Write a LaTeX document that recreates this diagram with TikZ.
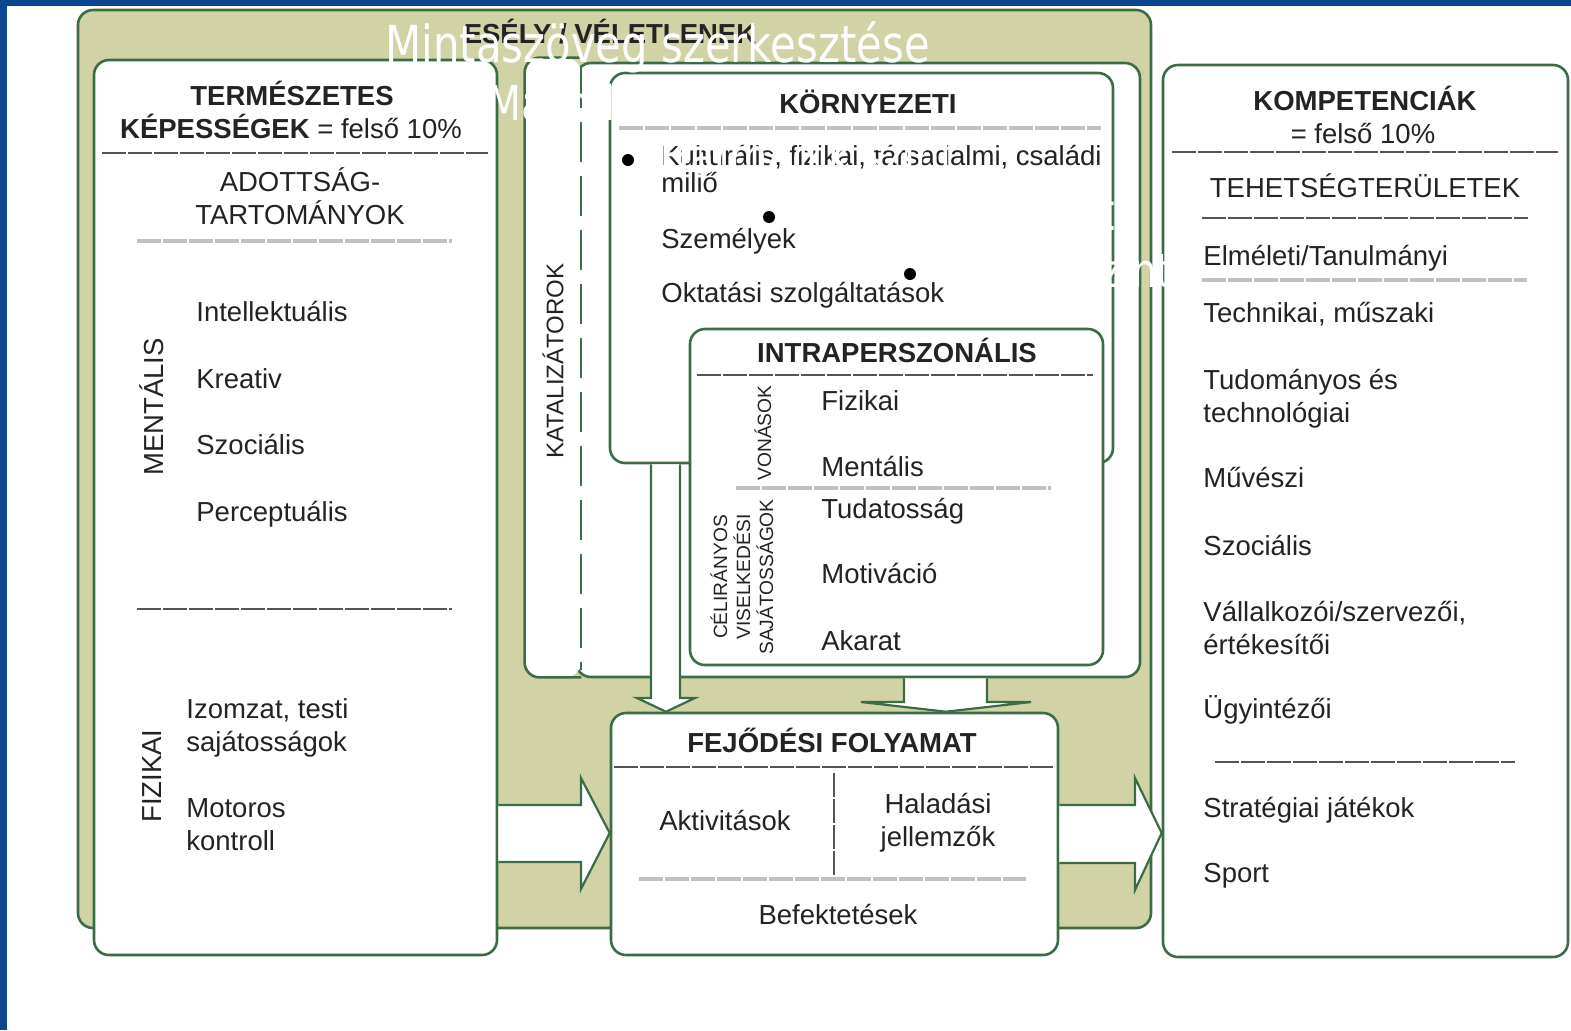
\documentclass[tikz,border=0pt]{standalone}
\usepackage{fontspec}
\setmainfont{Liberation Sans}
\newfontfamily\slidefont[FakeStretch=0.82]{DejaVu Sans}
\usetikzlibrary{fit}
\definecolor{chanceolive}{RGB}{209,210,166}
\definecolor{boxgreen}{RGB}{60,108,70}
\definecolor{slideblue}{RGB}{12,70,145}
\definecolor{darkdash}{RGB}{85,85,85}
\definecolor{lightdash}{RGB}{192,192,192}
\definecolor{ink}{RGB}{35,35,35}

\begin{document}
\begin{tikzpicture}[x=0.5pt,y=-0.5pt,
  box/.style={draw=boxgreen,line width=1.3pt,fill=white,rounded corners=7.5pt,inner sep=0pt},
  hd/.style={font=\fontsize{13.75}{16.5}\selectfont\bfseries,text=ink,inner sep=0pt,anchor=base},
  tx/.style={font=\fontsize{13.75}{16.5}\selectfont,text=ink,inner sep=0pt,anchor=base west,align=left},
  ctr/.style={tx,anchor=base,align=center},
  sm/.style={font=\fontsize{9.6}{11.5}\selectfont,text=ink,inner sep=0pt,rotate=90,align=center},
  sep/.style={draw=darkdash,line width=0.9pt,dash pattern=on 12pt off 1pt},
  lsep/.style={draw=lightdash,line width=1.6pt,dash pattern=on 12pt off 1pt},
  barrow/.style={draw=boxgreen,line width=1.1pt,fill=white},
  ov/.style={text=white,inner sep=0pt,anchor=base west}]
  \useasboundingbox (0,0) rectangle (1571,1030);
  \fill[white] (0,0) rectangle (1571,1030);
  \fill[slideblue] (0,0) rectangle (1571,6);
  \fill[slideblue] (0,0) rectangle (7,1030);

  \node[box,fill=chanceolive,fit={(78,10)(1151,928)}] (chance) {};
  \node[hd] (esely) at (610,43) {ESÉLY / VÉLETLENEK};

  \node[box,fit={(94,60)(497,955)}] (abil) {};
  \node[hd] (abil1) at (292,105) {TERMÉSZETES};
  \node[hd] (abil2) at (291,138) {KÉPESSÉGEK \mdseries= felső 10\%};
  \draw[sep] (102,153) -- (488,153);
  \node[ctr] (adott) at (300,224) {ADOTTSÁG-\\TARTOMÁNYOK};
  \draw[lsep] (137,241) -- (452,241);
  \node[tx,rotate=90,anchor=center] (ment) at (152,407) {MENTÁLIS};
  \node[tx] (intel) at (196,321) {Intellektuális};
  \node[tx] (kreat) at (196,388) {Kreativ};
  \node[tx] (szoc) at (196,454) {Szociális};
  \node[tx] (perc) at (196,521) {Perceptuális};
  \draw[sep] (137,609) -- (452,609);
  \node[tx,rotate=90,anchor=center] (fiz) at (152,776) {FIZIKAI};
  \node[tx] (izom) at (186,751) {Izomzat, testi\\sajátosságok};
  \node[tx] (motor) at (186,850) {Motoros\\kontroll};

  \node[box,fit={(576,63)(1140,677)}] (cont) {};
  \node[fill=white,rounded corners=7.5pt,inner sep=0pt,fit={(525,58)(581,677)}] (col) {};
  \draw[boxgreen,line width=1.3pt,rounded corners=7.5pt] (col.north east) -- (col.north west) -- (col.south west) -- (col.south east);
  \draw[boxgreen,line width=1.3pt,dash pattern=on 20pt off 7pt] (581,68) -- (581,670);
  \node[tx,font=\fontsize{12}{14}\selectfont,rotate=90,anchor=center] (kat) at (553,361) {KATALIZÁTOROK};

  \node[box,fit={(610,73)(1113,463)}] (env) {};
  \node[hd] (envh) at (868,113) {KÖRNYEZETI};
  \draw[lsep] (619,128) -- (1101,128);
  \node[tx,font=\fontsize{13.75}{13.5}\selectfont] (kult) at (661,192) {Kulturális, fizikai, társadalmi, családi\\miliő};
  \node[tx] (szem) at (661,248) {Személyek};
  \node[tx] (okt) at (661,302) {Oktatási szolgáltatások};

  \node[box,fit={(690,329)(1103,665)}] (intra) {};
  \node[hd] (intrah) at (897,362) {INTRAPERSZONÁLIS};
  \draw[sep] (697,375) -- (1093,375);
  \node[sm] (von) at (763,433) {VONÁSOK};
  \node[tx] (fizi) at (821,410) {Fizikai};
  \node[tx] (mentl) at (821,476) {Mentális};
  \draw[lsep] (736,488) -- (1051,488);
  \node[sm] (celi) at (742,577) {CÉLIRÁNYOS\\VISELKEDÉSI\\SAJÁTOSSÁGOK};
  \node[tx] (tud) at (821,518) {Tudatosság};
  \node[tx] (mot) at (821,583) {Motiváció};
  \node[tx] (akar) at (821,650) {Akarat};

  \node[box,fit={(1163,65)(1568,957)}] (comp) {};
  \node[hd] (comph) at (1365,110) {KOMPETENCIÁK};
  \node[ctr] (compf) at (1363,143) {= felső 10\%};
  \draw[sep] (1172,152) -- (1558,152);
  \node[ctr] (tehet) at (1365,197) {TEHETSÉGTERÜLETEK};
  \draw[sep] (1202,218) -- (1528,218);
  \node[tx] (elm) at (1203,265) {Elméleti/Tanulmányi};
  \draw[lsep] (1202,280) -- (1527,280);
  \node[tx] (tech) at (1203,322) {Technikai, műszaki};
  \node[tx] (tudo) at (1203,422) {Tudományos és\\technológiai};
  \node[tx] (muv) at (1203,487) {Művészi};
  \node[tx] (szoc2) at (1203,555) {Szociális};
  \node[tx] (vall) at (1203,654) {Vállalkozói/szervezői,\\értékesítői};
  \node[tx] (ugy) at (1203,718) {Ügyintézői};
  \draw[sep] (1215,762) -- (1515,762);
  \node[tx] (strat) at (1203,817) {Stratégiai játékok};
  \node[tx] (sport) at (1203,882) {Sport};

  \node[box,fit={(611,713)(1058,955)}] (proc) {};
  \node[hd] (proch) at (832,752) {FEJŐDÉSI FOLYAMAT};
  \draw[sep] (614,767) -- (1053,767);
  \draw[sep] (834,773) -- (834,880);
  \node[ctr] (akt) at (725,830) {Aktivitások};
  \node[ctr] (hal) at (938,846) {Haladási\\jellemzők};
  \draw[lsep] (639,879) -- (1026,879);
  \node[ctr] (bef) at (838,924) {Befektetések};

  \filldraw[barrow] (abil.east |- 0,805) -- (581,805) -- (581,778) -- (proc.west |- 0,833) -- (581,889) -- (581,862) -- (abil.east |- 0,862);
  \filldraw[barrow] (proc.east |- 0,805) -- (1135,805) -- (1135,778) -- (comp.west |- 0,833) -- (1135,890) -- (1135,863) -- (proc.east |- 0,863);
  \filldraw[barrow] (651,0 |- env.south) -- (651,698) -- (637,698) -- (666,0 |- proc.north) -- (695,698) -- (680,698) -- (680,0 |- env.south);
  \filldraw[barrow] (904,0 |- cont.south) -- (904,702) -- (861,702) -- (946,0 |- proc.north) -- (1031,702) -- (987,702) -- (987,0 |- cont.south);

  \node[ov,font=\slidefont\fontsize{25.5}{30}\selectfont] (lev1) at (385,62) {Mintaszöveg szerkesztése};
  \node[ov,font=\slidefont\fontsize{24}{28}\selectfont] (lev2) at (487,120) {Második szint};
  \node[ov,font=\slidefont\fontsize{24}{28}\selectfont] (lev3) at (660,173) {Harmadik szint};
  \node[ov,font=\slidefont\fontsize{26}{30}\selectfont] (lev4) at (801,230) {Negyedik szint};
  \node[ov,font=\slidefont\fontsize{23.5}{28}\selectfont] (lev5) at (942,287) {Ötödik szint};
  \fill (628,160) circle (3pt) (769,217) circle (3pt) (910,274) circle (3pt);
\end{tikzpicture}
\end{document}
